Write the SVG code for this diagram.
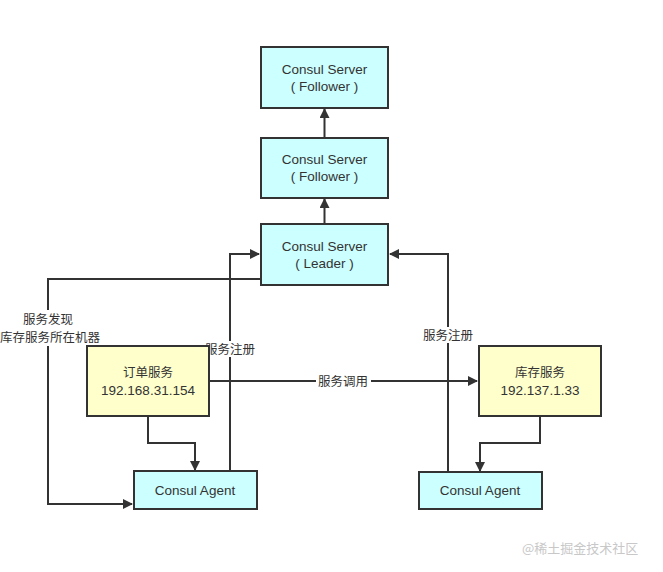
<svg xmlns="http://www.w3.org/2000/svg" width="663" height="572" viewBox="0 0 663 572">
<style>
.srv{fill:#ccffff;stroke:#333;stroke-width:2}
.svc{fill:#ffffcc;stroke:#333;stroke-width:2}
text{font-family:"Noto Sans CJK SC","Microsoft YaHei","Liberation Sans",sans-serif;font-size:12.5px;fill:#333;text-anchor:middle}
text.la{font-family:"Liberation Sans","Noto Sans CJK SC",sans-serif;font-size:13.5px}
.ln{fill:none;stroke:#333;stroke-width:2}
.bg{fill:#fff}
.wm{fill:#c8c8c8;font-size:13px;text-anchor:start}
</style>
<defs>
<marker id="ah" markerWidth="10" markerHeight="10" refX="9" refY="5" orient="auto" markerUnits="userSpaceOnUse">
<path d="M0,0 L10,5 L0,10 Z" fill="#333"/>
</marker>
</defs>
<rect width="663" height="572" fill="#fff"/>
<g id="connectors">
<path class="ln" d="M324.5,138 V109" marker-end="url(#ah)"/>
<path class="ln" d="M324.5,224 V199" marker-end="url(#ah)"/>
<path class="ln" d="M230,471 V254 H259" marker-end="url(#ah)"/>
<path class="ln" d="M261,279 H48 V504 H132" marker-end="url(#ah)"/>
<path class="ln" d="M448,472 V254 H390" marker-end="url(#ah)"/>
<path class="ln" d="M209,381 H477" marker-end="url(#ah)"/>
<path class="ln" d="M148,416 V443 H195 V470" marker-end="url(#ah)"/>
<path class="ln" d="M540,416 V443 H480 V471" marker-end="url(#ah)"/>
<rect class="bg" x="4" y="310" width="92" height="36"/>
<text x="48" y="324">服务发现</text>
<text x="50" y="342">库存服务所在机器</text>
<rect class="bg" x="203" y="341" width="54" height="16"/>
<text x="230" y="354">服务注册</text>
<rect class="bg" x="421" y="327" width="54" height="16"/>
<text x="448" y="340">服务注册</text>
<rect class="bg" x="316" y="373" width="55" height="16"/>
<text x="343" y="386">服务调用</text>
</g>
<g id="follower2">
<rect class="srv" x="261" y="47" width="127" height="61"/>
<text class="la" x="324.5" y="74">Consul Server</text>
<text class="la" x="324.5" y="91">( Follower )</text>
</g>
<g id="follower1">
<rect class="srv" x="261" y="138" width="127" height="60"/>
<text class="la" x="324.5" y="164">Consul Server</text>
<text class="la" x="324.5" y="181">( Follower )</text>
</g>
<g id="leader">
<rect class="srv" x="261" y="224" width="127" height="61"/>
<text class="la" x="324.5" y="251">Consul Server</text>
<text class="la" x="324.5" y="268">( Leader )</text>
</g>
<g id="order">
<rect class="svc" x="87" y="346" width="122" height="70"/>
<text x="148" y="377">订单服务</text>
<text class="la" x="148" y="395">192.168.31.154</text>
</g>
<g id="stock">
<rect class="svc" x="479" y="346" width="122" height="70"/>
<text x="540" y="377">库存服务</text>
<text class="la" x="540" y="395">192.137.1.33</text>
</g>
<g id="agent1">
<rect class="srv" x="134" y="471" width="123" height="38"/>
<text class="la" x="195" y="495">Consul Agent</text>
</g>
<g id="agent2">
<rect class="srv" x="419" y="472" width="123" height="37"/>
<text class="la" x="480" y="495">Consul Agent</text>
</g>
<text class="wm" x="522" y="553">@稀土掘金技术社区</text>
</svg>
